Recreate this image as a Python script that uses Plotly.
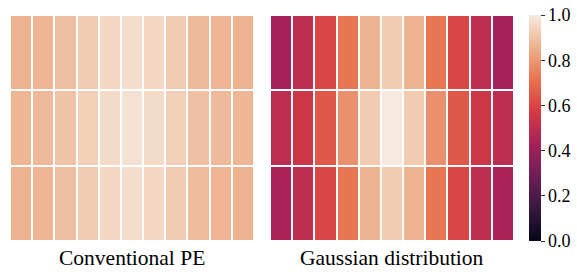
import plotly.graph_objects as go

# Data
columns = list(range(11))
rows = [0, 1, 2]
conventional_pe = [
    [0.86, 0.865, 0.89, 0.92, 0.95, 0.965, 0.95, 0.92, 0.88, 0.865, 0.86],
    [0.87, 0.88, 0.90, 0.93, 0.96, 0.975, 0.96, 0.93, 0.895, 0.88, 0.87],
    [0.86, 0.865, 0.89, 0.92, 0.95, 0.965, 0.95, 0.92, 0.885, 0.865, 0.86],
]
gaussian = [
    [0.43, 0.50, 0.60, 0.72, 0.86, 0.92, 0.86, 0.72, 0.60, 0.50, 0.43],
    [0.50, 0.55, 0.65, 0.78, 0.92, 1.00, 0.92, 0.78, 0.65, 0.55, 0.50],
    [0.44, 0.50, 0.60, 0.72, 0.86, 0.92, 0.86, 0.72, 0.60, 0.50, 0.44],
]
titles = ["Conventional PE", "Gaussian distribution"]
cbar_ticks = [0.0, 0.2, 0.4, 0.6, 0.8, 1.0]

rocket = [
    [0.0, "#04051A"], [0.143, "#36193E"], [0.286, "#6C1F56"], [0.429, "#A6215A"],
    [0.571, "#D43A44"], [0.714, "#E8734F"], [0.857, "#EDB18E"], [1.0, "#F7EBDF"],
]

W, H = 577, 276
font_family = "Liberation Serif, Times New Roman, serif"

fig = go.Figure()
fig.add_trace(go.Heatmap(z=conventional_pe, x=columns, y=rows, colorscale=rocket,
                         zmin=0, zmax=1, xgap=2, ygap=2, showscale=False,
                         xaxis="x", yaxis="y"))
fig.add_trace(go.Heatmap(z=gaussian, x=columns, y=rows, colorscale=rocket,
                         zmin=0, zmax=1, xgap=2, ygap=2, xaxis="x2", yaxis="y2",
                         colorbar=dict(
                             x=529 / W, xanchor="left", xpad=0, thickness=12,
                             y=(H - 241) / H, yanchor="bottom", len=226 / H, ypad=0,
                             lenmode="fraction", outlinewidth=0,
                             tickvals=cbar_ticks, ticktext=[f"{v:.1f}" for v in cbar_ticks],
                             ticks="outside", ticklen=4, tickcolor="#333",
                             tickfont=dict(family=font_family, size=18, color="black"),
                         )))

ydom = [(H - 241) / H, (H - 15) / H]
axis_off = dict(showgrid=False, zeroline=False, showticklabels=False, ticks="")
fig.update_layout(
    width=W, height=H, margin=dict(l=0, r=0, t=0, b=0),
    paper_bgcolor="white", plot_bgcolor="white",
    font=dict(family=font_family),
    xaxis=dict(domain=[10 / W, 254 / W], **axis_off),
    yaxis=dict(domain=ydom, autorange="reversed", **axis_off),
    xaxis2=dict(domain=[270 / W, 514 / W], **axis_off),
    yaxis2=dict(domain=ydom, autorange="reversed", anchor="x2", **axis_off),
    annotations=[
        dict(text=titles[0], x=(10 + 254) / 2 / W, y=(H - 258) / H, xref="paper", yref="paper",
             xanchor="center", yanchor="middle",
             showarrow=False, font=dict(family=font_family, size=21.5, color="black")),
        dict(text=titles[1], x=(270 + 514) / 2 / W, y=(H - 258) / H, xref="paper", yref="paper",
             xanchor="center", yanchor="middle",
             showarrow=False, font=dict(family=font_family, size=21.5, color="black")),
    ],
)
fig.write_html("out.html", config={"displayModeBar": False},
               post_script="document.body.style.margin='0';")
